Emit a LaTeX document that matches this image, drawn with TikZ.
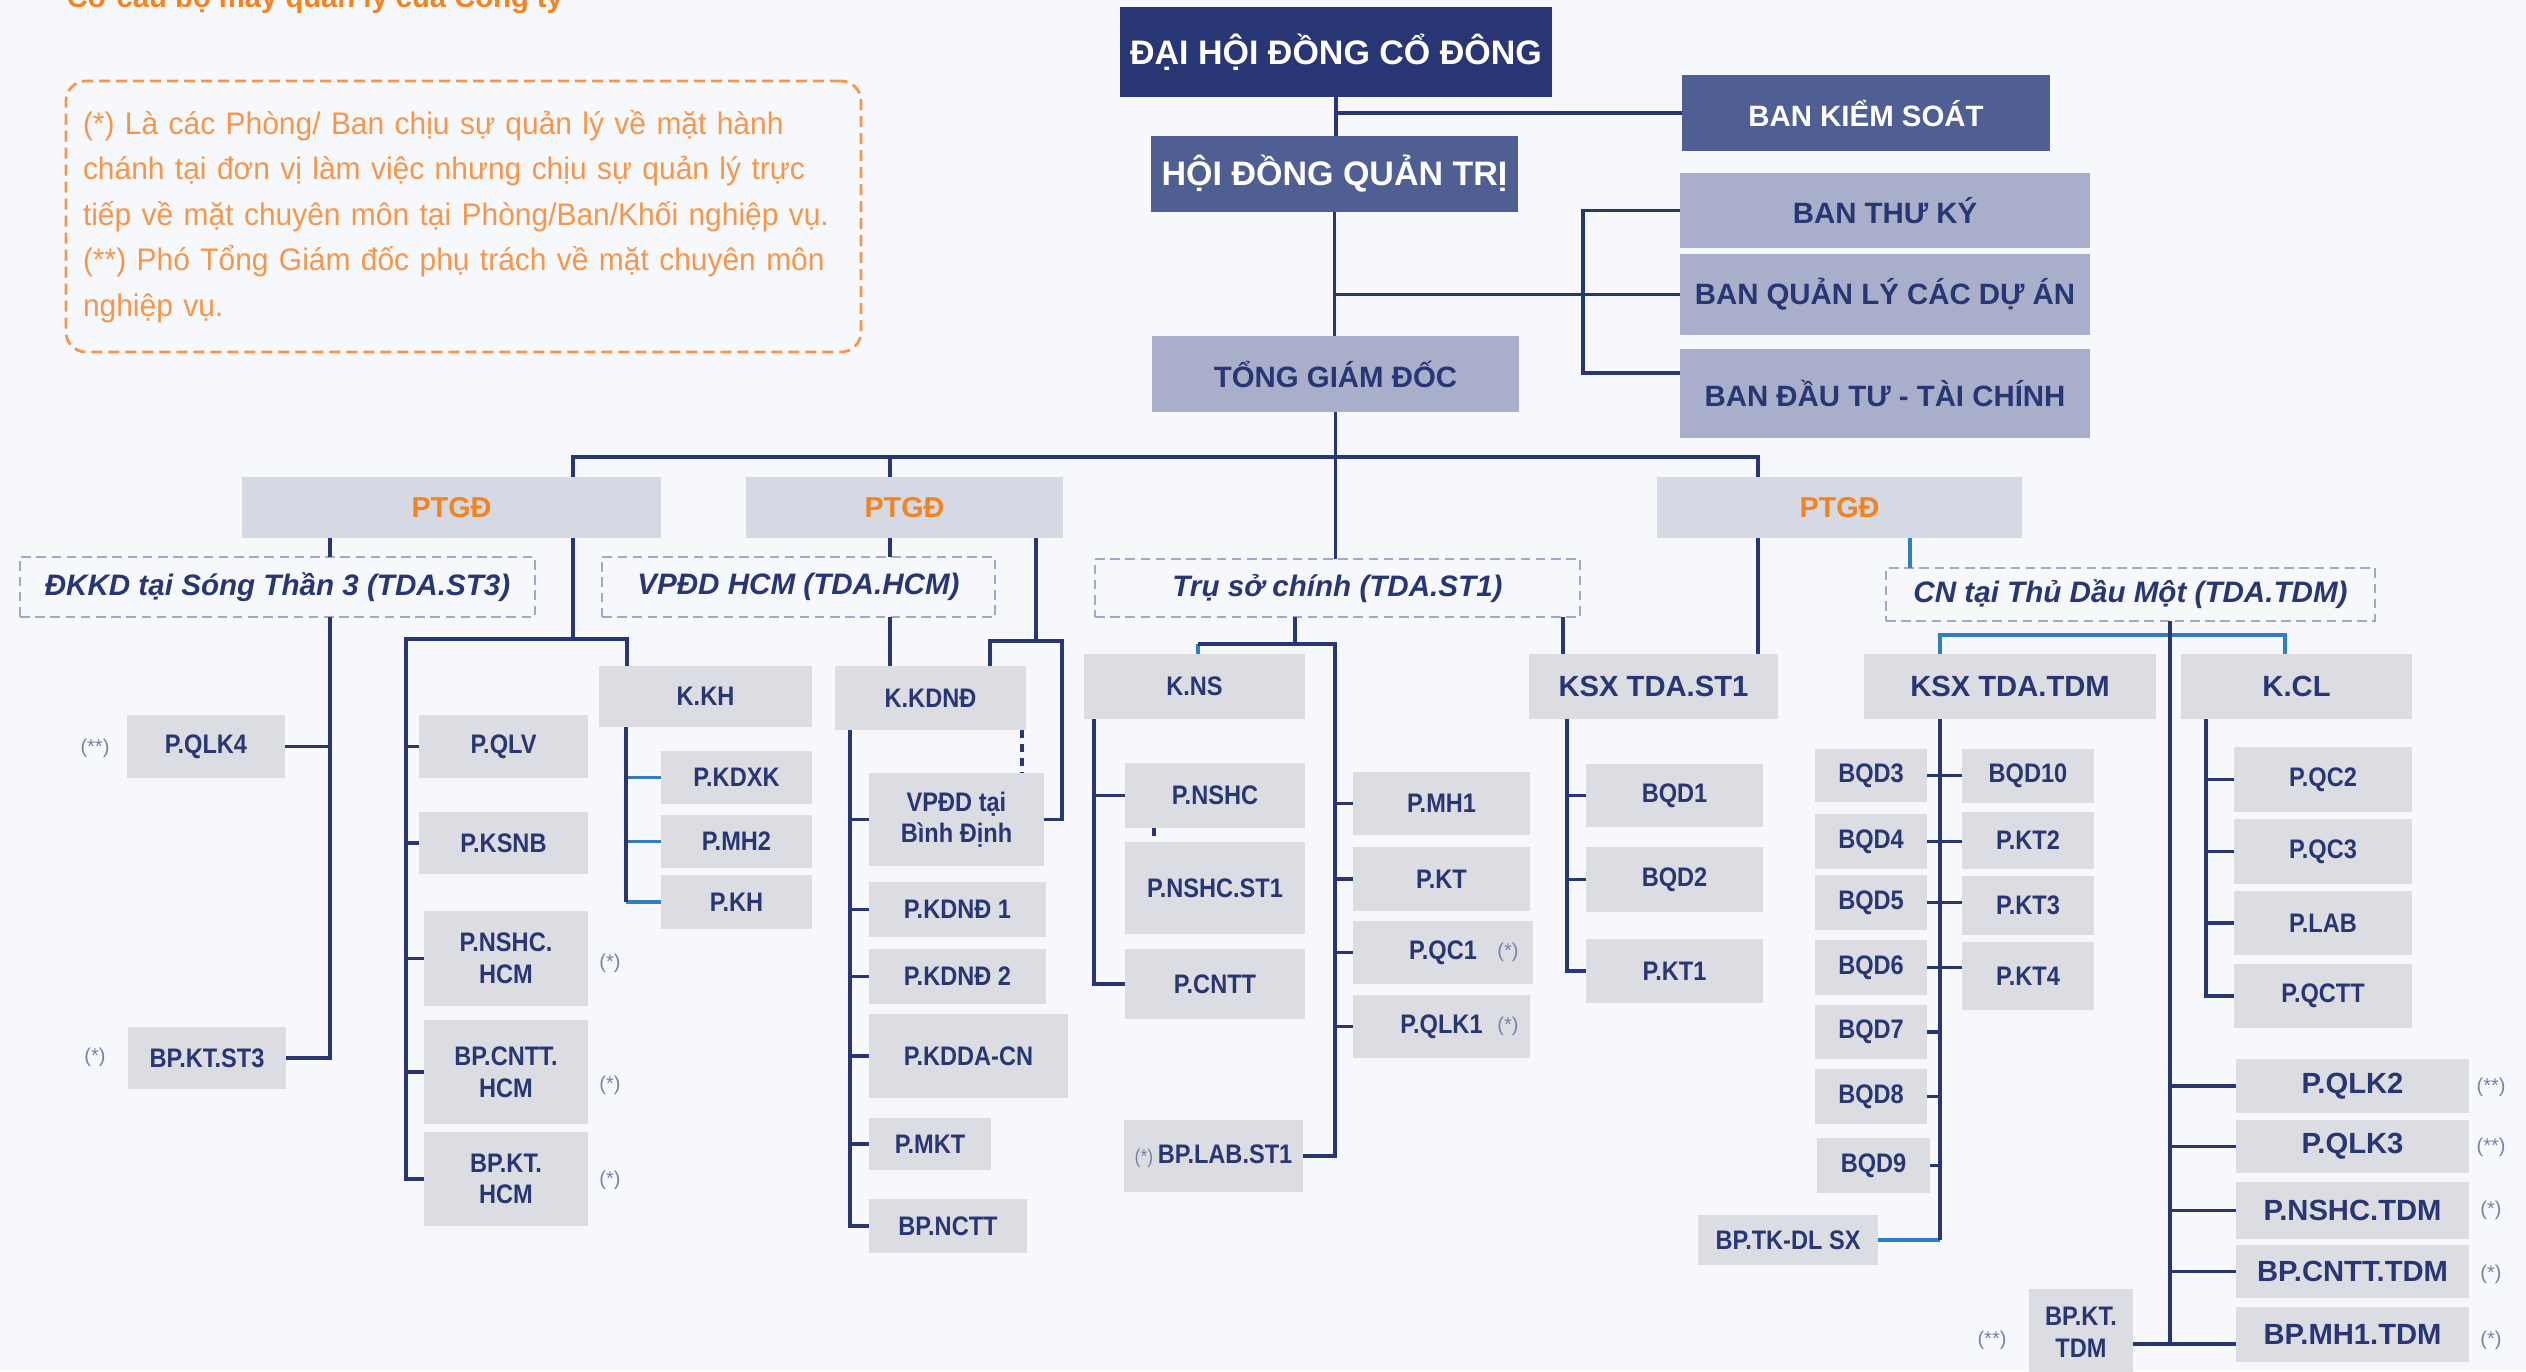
\documentclass[tikz,border=0pt]{standalone}
\usepackage{fontspec}
\setmainfont{Liberation Sans}
\newfontfamily\smfont[FakeStretch=0.88]{Liberation Sans}
\newfontfamily\notefont[FakeStretch=0.96]{Liberation Sans}
\definecolor{navy}{HTML}{283673}
\definecolor{midnavy}{HTML}{4F5F93}
\definecolor{lightnavy}{HTML}{A9AFCA}
\definecolor{ptgdfill}{HTML}{D5D9E4}
\definecolor{boxfill}{HTML}{DCDDE2}
\definecolor{orangeT}{HTML}{F58220}
\definecolor{noteorange}{HTML}{F7964A}
\definecolor{lineblue}{HTML}{2F7FC1}
\definecolor{dashgray}{HTML}{A3A9C4}
\definecolor{stargray}{HTML}{7A80A6}
\definecolor{bgcol}{HTML}{F7F8FB}
\newcommand\fs[2]{\fontsize{#1pt}{#2pt}\selectfont}
\newcommand\bx[7]{%
  \pgfmathsetmacro\bxw{(#4-#2)*0.25}%
  \pgfmathsetmacro\bxh{(#5-#3)*0.25}%
  \node[#6,minimum width=\bxw pt,minimum height=\bxh pt] (#1) at ({(#2+#4)/2},{(#3+#5)/2}) {#7};%
}
\tikzset{
  bxbase/.style={inner sep=0pt,outer sep=0pt,align=center,text=navy},
  bdark/.style={bxbase,fill=navy,text=white,font=\bfseries\fs{8.5}{10}},
  bmid/.style={bxbase,fill=midnavy,text=white,font=\bfseries\fs{7.35}{9}},
  bmidL/.style={bmid,font=\bfseries\fs{8.5}{10}},
  blite/.style={bxbase,fill=lightnavy,font=\bfseries\fs{7.35}{9}},
  bptgd/.style={bxbase,fill=ptgdfill,text=orangeT,font=\bfseries\fs{7.2}{9}},
  bunit/.style={bxbase,draw=dashgray,line width=0.6pt,dash pattern=on 2.4pt off 1.4pt,font=\bfseries\itshape\fs{7.4}{9}},
  bsm/.style={bxbase,fill=boxfill,font=\smfont\bfseries\fs{6.7}{7.9}},
  bmd/.style={bxbase,fill=boxfill,font=\bfseries\fs{7.3}{9}},
  starlbl/.style={inner sep=0pt,text=stargray,font=\fs{5}{6}},
  ln/.style={navy,line width=0.8pt},
  lb/.style={lineblue,line width=0.8pt},
  dotln/.style={navy,line width=0.8pt,dash pattern=on 2pt off 1.5pt},
  notebox/.style={draw=noteorange,line width=0.7pt,dash pattern=on 2.75pt off 1.5pt,rounded corners=5pt,
    text=noteorange,align=left,text width=190.25pt,inner xsep=4.25pt,inner ysep=0pt,minimum height=67.75pt,
    font=\notefont\fs{7.8}{11.4}},
}
\begin{document}
\begin{tikzpicture}[x=0.25pt,y=-0.25pt]
\useasboundingbox (0,0) rectangle (2526,1371);
\fill[bgcol] (0,0) rectangle (2526,1371);

% title and note
\node[anchor=base west,inner sep=0pt,text=orangeT,font=\bfseries\fs{7.3}{9}] (title) at (66,7) {Cơ cấu bộ máy quản lý của Công ty};
\node[notebox] (note) at (463.5,216.5) {(*) Là các Phòng/ Ban chịu sự quản lý về mặt hành\\chánh tại đơn vị làm việc nhưng chịu sự quản lý trực\\tiếp về mặt chuyên môn tại Phòng/Ban/Khối nghiệp vụ.\\(**) Phó Tổng Giám đốc phụ trách về mặt chuyên môn\\nghiệp vụ.};

% top level
\bx{dhdcd}{1120}{7}{1552}{97}{bdark}{ĐẠI HỘI ĐỒNG CỔ ĐÔNG}
\bx{bks}{1682}{75}{2050}{151}{bmid}{BAN KIỂM SOÁT}
\bx{hdqt}{1151}{136}{1518}{212}{bmidL}{HỘI ĐỒNG QUẢN TRỊ}
\bx{btk}{1680}{173}{2090}{248}{blite}{BAN THƯ KÝ}
\bx{bqlda}{1680}{254}{2090}{335}{blite}{BAN QUẢN LÝ CÁC DỰ ÁN}
\bx{bdttc}{1680}{349}{2090}{438}{blite}{BAN ĐẦU TƯ - TÀI CHÍNH}
\bx{tgd}{1152}{336}{1519}{412}{blite}{TỔNG GIÁM ĐỐC}

\bx{ptgdA}{242}{477}{661}{538}{bptgd}{PTGĐ}
\bx{ptgdB}{746}{477}{1063}{538}{bptgd}{PTGĐ}
\bx{ptgdC}{1657}{477}{2022}{538}{bptgd}{PTGĐ}

\bx{uST3}{20}{557}{535}{617}{bunit}{ĐKKD tại Sóng Thần 3 (TDA.ST3)}
\bx{uHCM}{602}{557}{995}{617}{bunit}{VPĐD HCM (TDA.HCM)}
\bx{uST1}{1095}{559}{1580}{617}{bunit}{Trụ sở chính (TDA.ST1)}
\bx{uTDM}{1886}{568}{2375}{621}{bunit}{CN tại Thủ Dầu Một (TDA.TDM)}

% ST3
\bx{pqlk4}{127}{715}{285}{778}{bsm}{P.QLK4}
\bx{bpktst3}{128}{1027}{286}{1089}{bsm}{BP.KT.ST3}
\node[starlbl] (s1) at (95,748) {(**)};
\node[starlbl] (s2) at (95,1057) {(*)};

% HCM group under PTGD A
\bx{pqlv}{419}{715}{588}{778}{bsm}{P.QLV}
\bx{pksnb}{419}{812}{588}{874}{bsm}{P.KSNB}
\bx{pnshchcm}{424}{911}{588}{1006}{bsm}{P.NSHC.\\HCM}
\bx{bpcntthcm}{424}{1020}{588}{1124}{bsm}{BP.CNTT.\\HCM}
\bx{bpkthcm}{424}{1132}{588}{1226}{bsm}{BP.KT.\\HCM}
\node[starlbl] (s3) at (610,963) {(*)};
\node[starlbl] (s4) at (610,1085) {(*)};
\node[starlbl] (s5) at (610,1180) {(*)};
\bx{kkh}{599}{666}{812}{727}{bsm}{K.KH}
\bx{pkdxk}{661}{751}{812}{804}{bsm}{P.KDXK}
\bx{pmh2}{661}{815}{812}{868}{bsm}{P.MH2}
\bx{pkh}{661}{875}{812}{929}{bsm}{P.KH}

% PTGD B
\bx{kkdnd}{835}{666}{1026}{730}{bsm}{K.KDNĐ}
\bx{vpddbd}{869}{773}{1044}{866}{bsm}{VPĐD tại\\Bình Định}
\bx{pkdnd1}{869}{882}{1046}{937}{bsm}{P.KDNĐ 1}
\bx{pkdnd2}{869}{949}{1046}{1004}{bsm}{P.KDNĐ 2}
\bx{pkddacn}{869}{1014}{1068}{1098}{bsm}{P.KDDA-CN}
\bx{pmkt}{869}{1118}{991}{1170}{bsm}{P.MKT}
\bx{bpnctt}{869}{1199}{1027}{1253}{bsm}{BP.NCTT}

% ST1
\bx{kns}{1084}{654}{1305}{719}{bsm}{K.NS}
\bx{pnshc}{1125}{763}{1305}{828}{bsm}{P.NSHC}
\bx{pnshcst1}{1125}{842}{1305}{934}{bsm}{P.NSHC.ST1}
\bx{pcntt}{1125}{949}{1305}{1019}{bsm}{P.CNTT}
\bx{bplabst1}{1124}{1120}{1303}{1192}{bsm}{{\mdseries\color{stargray}\fs{5}{6}(*)}\,BP.LAB.ST1}
\bx{pmh1}{1353}{772}{1530}{835}{bsm}{P.MH1}
\bx{pkt}{1353}{847}{1530}{911}{bsm}{P.KT}
\bx{pqc1}{1353}{921}{1533}{984}{bsm}{P.QC1}
\bx{pqlk1}{1353}{995}{1530}{1058}{bsm}{P.QLK1}
\node[starlbl] (s6) at (1508,952) {(*)};
\node[starlbl] (s7) at (1508,1026) {(*)};

% PTGD C
\bx{ksxst1}{1529}{654}{1778}{719}{bmd}{KSX TDA.ST1}
\bx{bqd1}{1586}{764}{1763}{827}{bsm}{BQD1}
\bx{bqd2}{1586}{847}{1763}{912}{bsm}{BQD2}
\bx{pkt1}{1586}{939}{1763}{1003}{bsm}{P.KT1}

\bx{ksxtdm}{1864}{654}{2156}{719}{bmd}{KSX TDA.TDM}
\bx{kcl}{2181}{654}{2412}{719}{bmd}{K.CL}
\bx{bqd3}{1815}{749}{1927}{802}{bsm}{BQD3}
\bx{bqd4}{1815}{814}{1927}{869}{bsm}{BQD4}
\bx{bqd5}{1815}{875}{1927}{930}{bsm}{BQD5}
\bx{bqd6}{1815}{940}{1927}{995}{bsm}{BQD6}
\bx{bqd7}{1815}{1005}{1927}{1059}{bsm}{BQD7}
\bx{bqd8}{1815}{1069}{1927}{1124}{bsm}{BQD8}
\bx{bqd9}{1817}{1138}{1930}{1193}{bsm}{BQD9}
\bx{bqd10}{1962}{749}{2094}{803}{bsm}{BQD10}
\bx{pkt2}{1962}{812}{2094}{869}{bsm}{P.KT2}
\bx{pkt3}{1962}{876}{2094}{935}{bsm}{P.KT3}
\bx{pkt4}{1962}{942}{2094}{1010}{bsm}{P.KT4}
\bx{bptkdl}{1698}{1215}{1878}{1265}{bsm}{BP.TK-DL SX}

\bx{pqc2}{2234}{747}{2412}{812}{bsm}{P.QC2}
\bx{pqc3}{2234}{819}{2412}{884}{bsm}{P.QC3}
\bx{plab}{2234}{891}{2412}{955}{bsm}{P.LAB}
\bx{pqctt}{2234}{964}{2412}{1028}{bsm}{P.QCTT}
\bx{pqlk2}{2236}{1059}{2469}{1113}{bmd}{P.QLK2}
\bx{pqlk3}{2236}{1120}{2469}{1173}{bmd}{P.QLK3}
\bx{pnshctdm}{2236}{1182}{2469}{1239}{bmd}{P.NSHC.TDM}
\bx{bpcntttdm}{2236}{1245}{2469}{1298}{bmd}{BP.CNTT.TDM}
\bx{bpmh1tdm}{2236}{1307}{2469}{1362}{bmd}{BP.MH1.TDM}
\bx{bpkttdm}{2029}{1289}{2133}{1375}{bsm}{BP.KT.\\TDM}
\node[starlbl] (s8) at (2491,1087) {(**)};
\node[starlbl] (s9) at (2491,1147) {(**)};
\node[starlbl] (s10) at (2491,1210) {(*)};
\node[starlbl] (s11) at (2491,1274) {(*)};
\node[starlbl] (s12) at (2491,1340) {(*)};
\node[starlbl] (s13) at (1992,1340) {(**)};

% ---------- connectors ----------
\draw[ln] (dhdcd.south) -- (dhdcd.south |- hdqt.north);
\draw[ln] (dhdcd.south |- bks.west) -- (bks.west);
\draw[ln] (hdqt.south) -- (hdqt.south |- tgd.north);
\draw[ln] (hdqt.south |- bqlda.west) -- (bqlda.west);
\coordinate (brkA) at (1583,212);
\coordinate (brkB) at (1583,373);
\draw[ln] (btk.west) -- (brkA |- btk.west) -- (brkB) -- (brkB -| bdttc.west);
\draw[ln] (tgd.south) -- (tgd.south |- uST1.north);

\coordinate (busA) at (573,457);
\coordinate (busB) at (890,457);
\coordinate (busC) at (1758,457);
\draw[ln] (busA |- ptgdA.north) -- (busA) -- (busC) -- (busC |- ptgdC.north);
\draw[ln] (busB) -- (busB |- ptgdB.north);

% PTGD A
\coordinate (xS3) at (330,0);
\draw[ln] (xS3 |- ptgdA.south) -- (xS3 |- uST3.north);
\draw[ln] (xS3 |- uST3.south) -- (xS3 |- bpktst3.east) -- (bpktst3.east);
\draw[ln] (pqlk4.east) -- (pqlk4.east -| xS3);

\coordinate (jA) at (573,639);
\coordinate (jAL) at (406,639);
\coordinate (jAR) at (627,639);
\draw[ln] (busA |- ptgdA.south) -- (jA);
\draw[ln] (jAR |- kkh.north) -- (jAR) -- (jAL) -- (jAL |- bpkthcm.west) -- (bpkthcm.west);
\foreach \n in {pqlv,pksnb,pnshchcm,bpcntthcm} \draw[ln] (\n.west) -- (\n.west -| jAL);
\coordinate (xKH) at (626,0);
\foreach \n in {pkdxk,pmh2,pkh} \draw[lb] (\n.west) -- (\n.west -| xKH);
\draw[ln] (xKH |- kkh.south) -- (xKH |- pkh.west);

% PTGD B
\draw[ln] (busB |- ptgdB.south) -- (busB |- uHCM.north);
\draw[ln] (busB |- uHCM.south) -- (busB |- kkdnd.north);
\coordinate (jB) at (1036,641);
\coordinate (jBL) at (990,641);
\coordinate (jBR) at (1062,641);
\draw[ln] (jB |- ptgdB.south) -- (jB);
\draw[ln] (jBL |- kkdnd.north) -- (jBL) -- (jBR) -- (jBR |- vpddbd.east) -- (vpddbd.east);
\coordinate (xDot) at (1022,0);
\draw[dotln] (xDot |- kkdnd.south) -- (xDot |- vpddbd.north);
\coordinate (xKD) at (850,0);
\draw[ln] (xKD |- kkdnd.south) -- (xKD |- bpnctt.west) -- (bpnctt.west);
\foreach \n in {vpddbd,pkdnd1,pkdnd2,pkddacn,pmkt} \draw[ln] (\n.west) -- (\n.west -| xKD);

% Tru so chinh
\coordinate (jT) at (1295,644);
\coordinate (jTL) at (1198,644);
\coordinate (xT) at (1335,0);
\draw[ln] (jT |- uST1.south) -- (jT);
\draw[lb] (jTL) -- (jTL |- kns.north);
\draw[ln] (jTL) -- (jTL -| xT) -- (xT |- bplabst1.east) -- (bplabst1.east);
\foreach \n in {pmh1,pkt,pqc1,pqlk1} \draw[ln] (\n.west) -- (\n.west -| xT);
\coordinate (xNS) at (1094,0);
\draw[ln] (xNS |- kns.south) -- (xNS |- pcntt.west) -- (pcntt.west);
\draw[ln] (pnshc.west) -- (pnshc.west -| xNS);
\coordinate (xD2) at (1154,0);
\draw[dotln] (xD2 |- pnshc.south) -- (xD2 |- pnshcst1.north);
\coordinate (xS1) at (1563,0);
\draw[ln] (xS1 |- uST1.south) -- (xS1 |- ksxst1.north);

% PTGD C
\draw[ln] (busC |- ptgdC.south) -- (busC |- ksxst1.north);
\coordinate (xK1) at (1567,0);
\draw[ln] (xK1 |- ksxst1.south) -- (xK1 |- pkt1.west) -- (pkt1.west);
\foreach \n in {bqd1,bqd2} \draw[ln] (\n.west) -- (\n.west -| xK1);

\coordinate (xP3) at (1910,0);
\draw[lb] (xP3 |- ptgdC.south) -- (xP3 |- uTDM.north);
\coordinate (jCL) at (1940,635);
\coordinate (jCR) at (2285,635);
\draw[lb] (jCL |- ksxtdm.north) -- (jCL) -- (jCR) -- (jCR |- kcl.north);
\coordinate (xCN) at (2170,0);
\coordinate (cnbot) at (2170,1344);
\draw[ln] (xCN |- uTDM.south) -- (cnbot);

\coordinate (xKT) at (1940,0);
\draw[lb] (bptkdl.east) -- (bptkdl.east -| xKT);
\draw[ln] (xKT |- ksxtdm.south) -- (xKT |- bptkdl.east);
\foreach \n in {bqd7,bqd8,bqd9} \draw[ln] (\n.east) -- (\n.east -| xKT);
\draw[ln] (bqd3.east) -- (bqd3.east -| bqd10.west);
\draw[ln] (bqd4.east) -- (bqd4.east -| pkt2.west);
\draw[ln] (bqd5.east) -- (bqd5.east -| pkt3.west);
\draw[ln] (bqd6.east) -- (bqd6.east -| pkt4.west);

\coordinate (xCL) at (2206,0);
\draw[ln] (xCL |- kcl.south) -- (xCL |- pqctt.west) -- (pqctt.west);
\foreach \n in {pqc2,pqc3,plab} \draw[ln] (\n.west) -- (\n.west -| xCL);
\foreach \n in {pqlk2,pqlk3,pnshctdm,bpcntttdm} \draw[ln] (\n.west) -- (\n.west -| xCN);
\draw[ln] (bpkttdm.east |- cnbot) -- (bpmh1tdm.west |- cnbot);
\end{tikzpicture}
\end{document}
